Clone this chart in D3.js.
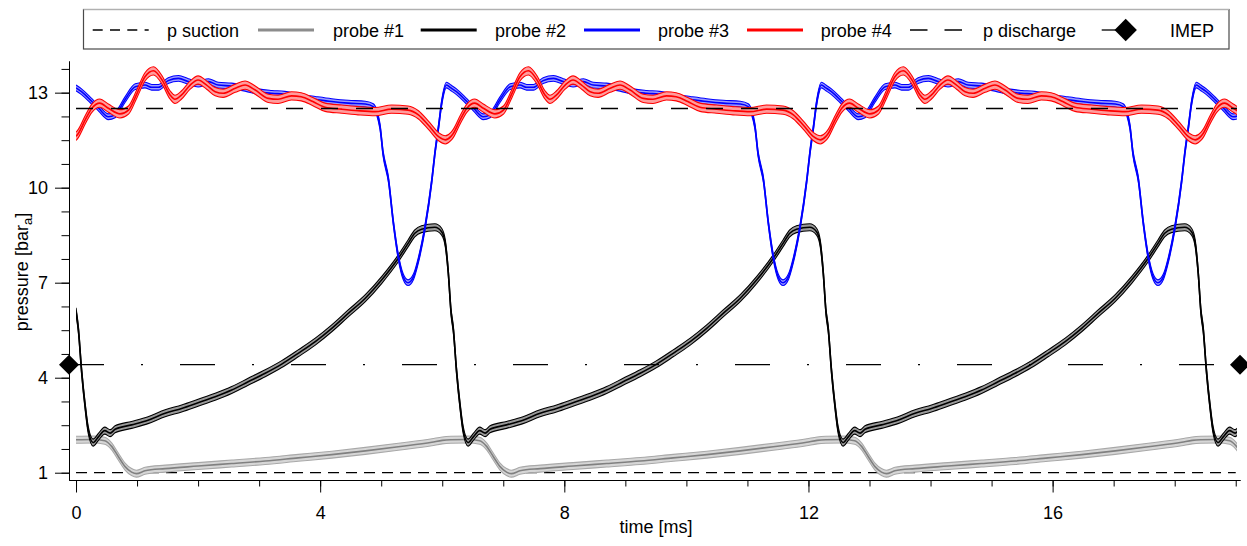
<!DOCTYPE html>
<html><head><meta charset="utf-8">
<script src="https://cdn.jsdelivr.net/npm/d3@7"></script>
<style>
body{margin:0;background:#fff;}
svg{display:block;font-family:"Liberation Sans",Arial,sans-serif;}
</style></head><body>
<svg id="chart" width="1247" height="546"></svg>
<script>
// ---------------- DATA ----------------
// The measured cycle (phase-averaged) is shown three+ times; start time of each cycle [ms]
const cycleStarts = [0, 6.143, 12.286, 18.429];
const dataEnd = 19.02;                       // last recorded time [ms]

// probe #1 (grey)
const probe1Phase  = [0, 0.28, 0.47, 0.58, 0.69, 0.80, 0.91, 0.99, 1.13, 1.46, 2.00, 2.55, 3.10, 3.64, 4.19, 4.74, 5.28, 5.83, 6.00, 6.143];
const probe1Values = [2.04, 2.05, 2.01, 1.84, 1.52, 1.20, 1.02, 0.97, 1.06, 1.13, 1.21, 1.29, 1.37, 1.47, 1.57, 1.69, 1.82, 1.96, 2.02, 2.04];

// probe #2 (black)
const probe2Phase  = [0, 0.04, 0.09, 0.15, 0.20, 0.28, 0.37, 0.47, 0.56, 0.64, 0.91, 1.18, 1.46, 1.73, 2.00, 2.28, 2.55, 2.82, 3.10, 3.37, 3.64, 3.92, 4.19, 4.46, 4.74, 5.01, 5.28, 5.44, 5.55, 5.66, 5.88, 5.99, 6.05, 6.10, 6.143];
const probe2Values = [6.1, 5.5, 4.24, 3.09, 2.35, 1.95, 2.14, 2.33, 2.25, 2.37, 2.51, 2.66, 2.88, 3.03, 3.21, 3.40, 3.61, 3.87, 4.14, 4.43, 4.77, 5.14, 5.56, 6.03, 6.51, 7.09, 7.77, 8.24, 8.56, 8.69, 8.75, 8.61, 8.24, 7.30, 6.1];

// probe #3 (blue)
const probe3Phase  = [0, 0.09, 0.26, 0.37, 0.53, 0.64, 0.80, 0.97, 1.13, 1.24, 1.35, 1.51, 1.68, 1.84, 2.00, 2.17, 2.33, 2.55, 2.77, 2.99, 3.21, 3.42, 3.64, 3.92, 4.19, 4.46, 4.74, 4.87, 4.98, 5.03, 5.12, 5.20, 5.28, 5.36, 5.44, 5.53, 5.61, 5.72, 5.83, 5.88, 5.94, 5.99, 6.07, 6.143];
const probe3Values = [13.15, 13.03, 12.72, 12.51, 12.24, 12.30, 12.77, 13.19, 13.24, 13.17, 13.17, 13.38, 13.45, 13.35, 13.27, 13.35, 13.24, 13.21, 13.14, 13.03, 12.98, 12.95, 12.87, 12.79, 12.72, 12.67, 12.64, 12.56, 11.93, 11.09, 10.24, 8.88, 7.82, 7.19, 7.0, 7.19, 7.72, 8.77, 10.24, 11.09, 11.93, 12.67, 13.24, 13.15];

// probe #4 (red)
const probe4Phase  = [0, 0.04, 0.15, 0.26, 0.39, 0.53, 0.72, 0.86, 1.00, 1.13, 1.27, 1.41, 1.54, 1.62, 1.73, 1.87, 2.00, 2.14, 2.28, 2.41, 2.61, 2.77, 2.93, 3.15, 3.31, 3.53, 3.69, 3.88, 4.08, 4.35, 4.62, 4.90, 5.17, 5.44, 5.61, 5.77, 5.94, 6.05, 6.143];
const probe4Values = [11.62, 11.72, 12.14, 12.51, 12.67, 12.51, 12.33, 12.45, 12.98, 13.50, 13.69, 13.40, 12.93, 12.79, 12.93, 13.24, 13.40, 13.24, 13.03, 12.98, 13.14, 13.24, 13.09, 12.82, 12.79, 12.90, 12.87, 12.72, 12.54, 12.48, 12.43, 12.40, 12.48, 12.45, 12.30, 11.98, 11.61, 11.51, 11.62];

// scatter band half-width (bar) of probes #1..#4
const bandHalfWidth = [0.11, 0.11, 0.09, 0.13];

// reference levels
const pSuctionTime = [0, 19.0],   pSuctionValue = [1.0, 1.0];
const pDischargeTime = [0, 19.02], pDischargeValue = [12.5, 12.5];
const imepTime = [-0.115, 19.07], imepValue = [4.41, 4.41];

// axes
const xMajorTicks = [0, 4, 8, 12, 16];
const xMinorTicks = [0,1,2,3,4,5,6,7,8,9,10,11,12,13,14,15,16,17,18,19];
const yMajorTicks = [1, 4, 7, 10, 13];
const yMinorTicks = [1,1.75,2.5,3.25,4,4.75,5.5,6.25,7,7.75,8.5,9.25,10,10.75,11.5,12.25,13,13.75];
const xDomain = [-0.115, 19.07];
const yDomain = [0.77, 14.0];

const legendLabels = ["p suction", "probe #1", "probe #2", "probe #3", "probe #4", "p discharge", "IMEP"];

// ---------------- DRAWING ----------------
const svg = d3.select("#chart");
const x = d3.scaleLinear().domain(xDomain).range([69, 1240]);
const y = d3.scaleLinear().domain(yDomain).range([480, 61]);

svg.append("defs").append("clipPath").attr("id","clip")
  .append("rect")
  .attr("x", x(0)).attr("y", 0)
  .attr("width", x(dataEnd) - x(0)).attr("height", 546);

function expand(phase, values){
  const out = [];
  cycleStarts.forEach((c,k)=>{
    phase.forEach((p,i)=>{
      if (k>0 && i===0) return;
      out.push({t: c + p, v: values[i]});
    });
  });
  return out;
}

const plot = svg.append("g");

function refLine(ts, vs, dash, width){
  const pts = ts.map((t,i)=>({t, v: vs[i]}));
  plot.append("path")
    .attr("d", d3.line().x(d=>x(d.t)).y(d=>y(d.v))(pts))
    .attr("fill","none").attr("stroke","#000")
    .attr("stroke-width", width).attr("stroke-dasharray", dash);
}

function band(phase, values, half, st){
  const data = expand(phase, values);
  const g = plot.append("g").attr("clip-path","url(#clip)");
  const curve = d3.curveMonotoneX;
  g.append("path")
    .attr("d", d3.area().x(d=>x(d.t)).y0(d=>y(d.v-half)).y1(d=>y(d.v+half)).curve(curve)(data))
    .attr("fill", st.fill);
  [half, -half].forEach(off=>{
    g.append("path")
      .attr("d", d3.line().x(d=>x(d.t)).y(d=>y(d.v+off)).curve(curve)(data))
      .attr("fill","none").attr("stroke", st.edge).attr("stroke-width", 1.1)
      .attr("stroke-linejoin","round");
  });
  g.append("path")
    .attr("d", d3.line().x(d=>x(d.t)).y(d=>y(d.v)).curve(curve)(data))
    .attr("fill","none").attr("stroke", st.center).attr("stroke-width", 1.6)
    .attr("stroke-linejoin","round");
}

const styles = [
  {fill:"#d6d6d6", edge:"#a8a8a8", center:"#808080", legend:"#8c8c8c"},
  {fill:"#9a9a9a", edge:"#000000", center:"#000000", legend:"#000000"},
  {fill:"#9d9dff", edge:"#0000ff", center:"#0000ff", legend:"#0000ff"},
  {fill:"#ff9c9c", edge:"#ff0000", center:"#ff0000", legend:"#ff0000"}
];

refLine(pSuctionTime, pSuctionValue, "11,7", 1.3);
band(probe1Phase, probe1Values, bandHalfWidth[0], styles[0]);
band(probe2Phase, probe2Values, bandHalfWidth[1], styles[1]);
band(probe3Phase, probe3Values, bandHalfWidth[2], styles[2]);
band(probe4Phase, probe4Values, bandHalfWidth[3], styles[3]);
refLine(pDischargeTime, pDischargeValue, "17,18", 1.3);
refLine(imepTime, imepValue, "35,37,2,37", 1.3);

const diamond = d3.symbol().type(d3.symbolSquare).size(200);
imepTime.forEach((t,i)=>{
  plot.append("path").attr("d", diamond())
    .attr("transform", `translate(${x(t)},${y(imepValue[i])}) rotate(45)`)
    .attr("fill","#000");
});

// axes
const fontSize = "18px";
function styleAxis(g){
  g.selectAll("path,line").attr("stroke","#000").attr("stroke-width",1);
  g.selectAll("text").attr("fill","#000").style("font-size",fontSize)
    .style("font-family","'Liberation Sans',Arial,sans-serif");
}
const yAxisG = svg.append("g").attr("transform","translate(69,0)");
yAxisG.append("g").call(d3.axisLeft(y).tickValues(yMinorTicks).tickSize(7.5).tickSizeOuter(0).tickFormat("")).call(styleAxis);
yAxisG.append("g").call(d3.axisLeft(y).tickValues(yMajorTicks).tickSize(14).tickSizeOuter(0).tickPadding(7).tickFormat(d3.format("d"))).call(styleAxis);

const xAxisG = svg.append("g").attr("transform","translate(0,480)");
xAxisG.append("g").call(d3.axisBottom(x).tickValues(xMinorTicks).tickSize(6.5).tickSizeOuter(0).tickFormat("")).call(styleAxis);
xAxisG.append("g").call(d3.axisBottom(x).tickValues(xMajorTicks).tickSize(12.5).tickSizeOuter(0).tickPadding(13.5).tickFormat(d3.format("d"))).call(styleAxis);

// axis titles
svg.append("text").attr("x", 656).attr("y", 533).attr("text-anchor","middle")
  .style("font-size",fontSize).text("time [ms]");
const yt = svg.append("text").attr("transform","translate(28,272) rotate(-90)")
  .attr("text-anchor","middle").style("font-size",fontSize);
yt.append("tspan").text("pressure [bar");
yt.append("tspan").attr("baseline-shift","-30%").style("font-size","13px").text("a");
yt.append("tspan").text("]");

// legend
const lg = svg.append("g");
lg.append("rect").attr("x",83.5).attr("y",9.5).attr("width",1145.5).attr("height",39.5)
  .attr("fill","#fff").attr("stroke","#4a4a4a").attr("stroke-width",1.2);
lg.append("line").attr("x1",83.5).attr("x2",1229).attr("y1",9.5).attr("y2",9.5)
  .attr("stroke","#b0b0b0").attr("stroke-width",1.2);
const sampleX = [92.7, 258, 420.7, 584, 747, 910, 1101.7];
const textX   = [167, 333, 495, 658, 820.7, 983, 1170];
const ly = 30;
legendLabels.forEach((lab,i)=>{
  let x2 = sampleX[i] + 56;
  const ln = lg.append("line").attr("x1",sampleX[i]).attr("y1",ly).attr("y2",ly)
    .attr("stroke","#000").attr("stroke-width",1.3);
  if (i===0){ ln.attr("x2", sampleX[i]+56).attr("stroke-dasharray","10,7.3"); }
  else if (i>=1 && i<=4){ ln.attr("x2", x2).attr("stroke", styles[i-1].legend).attr("stroke-width",2.8); }
  else if (i===5){ ln.attr("x2", sampleX[i]+52).attr("stroke-dasharray","17.5,17"); }
  else {
    ln.attr("x2", sampleX[i]+24);
    lg.append("path").attr("d", d3.symbol().type(d3.symbolSquare).size(250)())
      .attr("transform",`translate(${sampleX[i]+24},${ly}) rotate(45)`).attr("fill","#000");
  }
  lg.append("text").attr("x", textX[i]).attr("y", ly+6.5).style("font-size",fontSize).text(lab);
});
</script>
</body></html>
